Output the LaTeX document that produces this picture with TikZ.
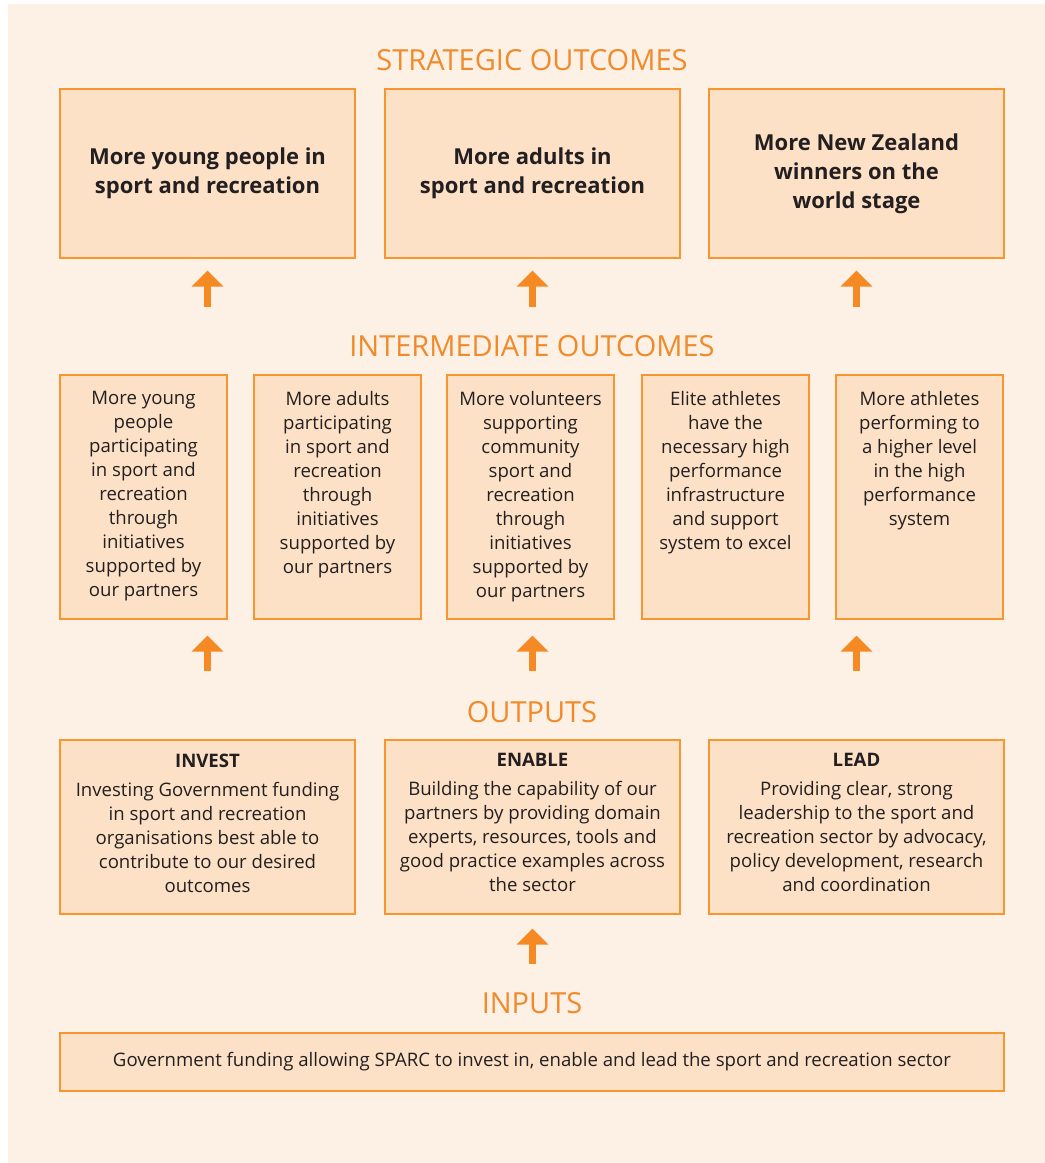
\documentclass[tikz,border=0pt]{standalone}
\usepackage{fontspec}
\setmainfont{Open Sans}
\usetikzlibrary{positioning, arrows.meta}

\definecolor{bgcream}{HTML}{FDF1E6}
\definecolor{boxfill}{HTML}{FDE1C7}
\definecolor{boxline}{HTML}{F7962E}
\definecolor{arroworange}{HTML}{F58A24}
\definecolor{headorange}{HTML}{F08A2A}
\definecolor{bodytext}{HTML}{231F20}

\tikzset{
    panel/.style={draw=boxline, fill=boxfill, line width=1.2pt, inner sep=0pt},
    heading/.style={text=headorange, font=\fontsize{29}{34}\selectfont},
    bigtext/.style={text=bodytext, align=center, font=\fontsize{22}{29}\selectfont\bfseries},
    smalltext/.style={text=bodytext, align=center, inner sep=0pt, font=\fontsize{18.6}{24}\selectfont},
    uparrow/.style={draw=arroworange, line width=7pt, -{Triangle[width=31pt,length=16pt]}}
}

\begin{document}
\begin{tikzpicture}[x=1pt, y=-1pt]
    \useasboundingbox (0,0) rectangle (1045,1163);
    \fill[bgcream] (8,4) rectangle (1045,1163);

    % Strategic outcomes
    \node[heading] (hs) at (532,60) {STRATEGIC OUTCOMES};
    \node[panel, minimum width=295pt, minimum height=169pt] (s1) at (207.5,173.5) {};
    \node[panel, minimum width=295pt, minimum height=169pt] (s2) at (532.5,173.5) {};
    \node[panel, minimum width=295pt, minimum height=169pt] (s3) at (856.5,173.5) {};
    \node[bigtext] at (s1) {More young people in\\sport and recreation};
    \node[bigtext] at (s2) {More adults in\\sport and recreation};
    \node[bigtext] at (s3) {More New Zealand\\winners on the\\world stage};

    % Intermediate outcomes
    \node[heading] (hi) at (532,346) {INTERMEDIATE OUTCOMES};
    \node[panel, minimum width=167pt, minimum height=244pt] (i1) at (143.5,497) {};
    \node[panel, minimum width=167pt, minimum height=244pt] (i2) at (337.5,497) {};
    \node[panel, minimum width=167pt, minimum height=244pt] (i3) at (530.5,497) {};
    \node[panel, minimum width=167pt, minimum height=244pt] (i4) at (725.5,497) {};
    \node[panel, minimum width=167pt, minimum height=244pt] (i5) at (919.5,497) {};
    \node[smalltext, below=17pt of i1.north] {More young\\people\\participating\\in sport and\\recreation\\through\\initiatives\\supported by\\our partners};
    \node[smalltext, below=17pt of i2.north] {More adults\\participating\\in sport and\\recreation\\through\\initiatives\\supported by\\our partners};
    \node[smalltext, below=17pt of i3.north] {More volunteers\\supporting\\community\\sport and\\recreation\\through\\initiatives\\supported by\\our partners};
    \node[smalltext, below=17pt of i4.north] {Elite athletes\\have the\\necessary high\\performance\\infrastructure\\and support\\system to excel};
    \node[smalltext, below=17pt of i5.north] {More athletes\\performing to\\a higher level\\in the high\\performance\\system};

    % Outputs
    \node[heading] (ho) at (532,712) {OUTPUTS};
    \node[panel, minimum width=295pt, minimum height=174pt] (o1) at (207.5,827) {};
    \node[panel, minimum width=295pt, minimum height=174pt] (o2) at (532.5,827) {};
    \node[panel, minimum width=295pt, minimum height=174pt] (o3) at (856.5,827) {};
    \node[smalltext, below=14pt of o1.north] {\textbf{INVEST}\\[5pt]Investing Government funding\\in sport and recreation\\organisations best able to\\contribute to our desired\\outcomes};
    \node[smalltext, below=14pt of o2.north] {\textbf{ENABLE}\\[5pt]Building the capability of our\\partners by providing domain\\experts, resources, tools and\\good practice examples across\\the sector};
    \node[smalltext, below=14pt of o3.north] {\textbf{LEAD}\\[5pt]Providing clear, strong\\leadership to the sport and\\recreation sector by advocacy,\\policy development, research\\and coordination};

    % Inputs
    \node[heading] (hn) at (532,1003) {INPUTS};
    \node[panel, minimum width=944pt, minimum height=58pt] (n1) at (532,1062) {};
    \node[smalltext] at (n1) {Government funding allowing SPARC to invest in, enable and lead the sport and recreation sector};

    % Arrows
    \draw[uparrow, shorten <=67pt, shorten >=12pt] (s1.south |- i1.north) -- (s1.south);
    \draw[uparrow, shorten <=67pt, shorten >=12pt] (s2.south |- i1.north) -- (s2.south);
    \draw[uparrow, shorten <=67pt, shorten >=12pt] (s3.south |- i1.north) -- (s3.south);
    \draw[uparrow, shorten <=68pt, shorten >=16pt] (o1.north) -- (o1.north |- i1.south);
    \draw[uparrow, shorten <=68pt, shorten >=16pt] (o2.north) -- (o2.north |- i1.south);
    \draw[uparrow, shorten <=68pt, shorten >=16pt] (o3.north) -- (o3.north |- i1.south);
    \draw[uparrow, shorten <=68pt, shorten >=14pt] (n1.north -| o2.south) -- (o2.south);
\end{tikzpicture}
\end{document}
